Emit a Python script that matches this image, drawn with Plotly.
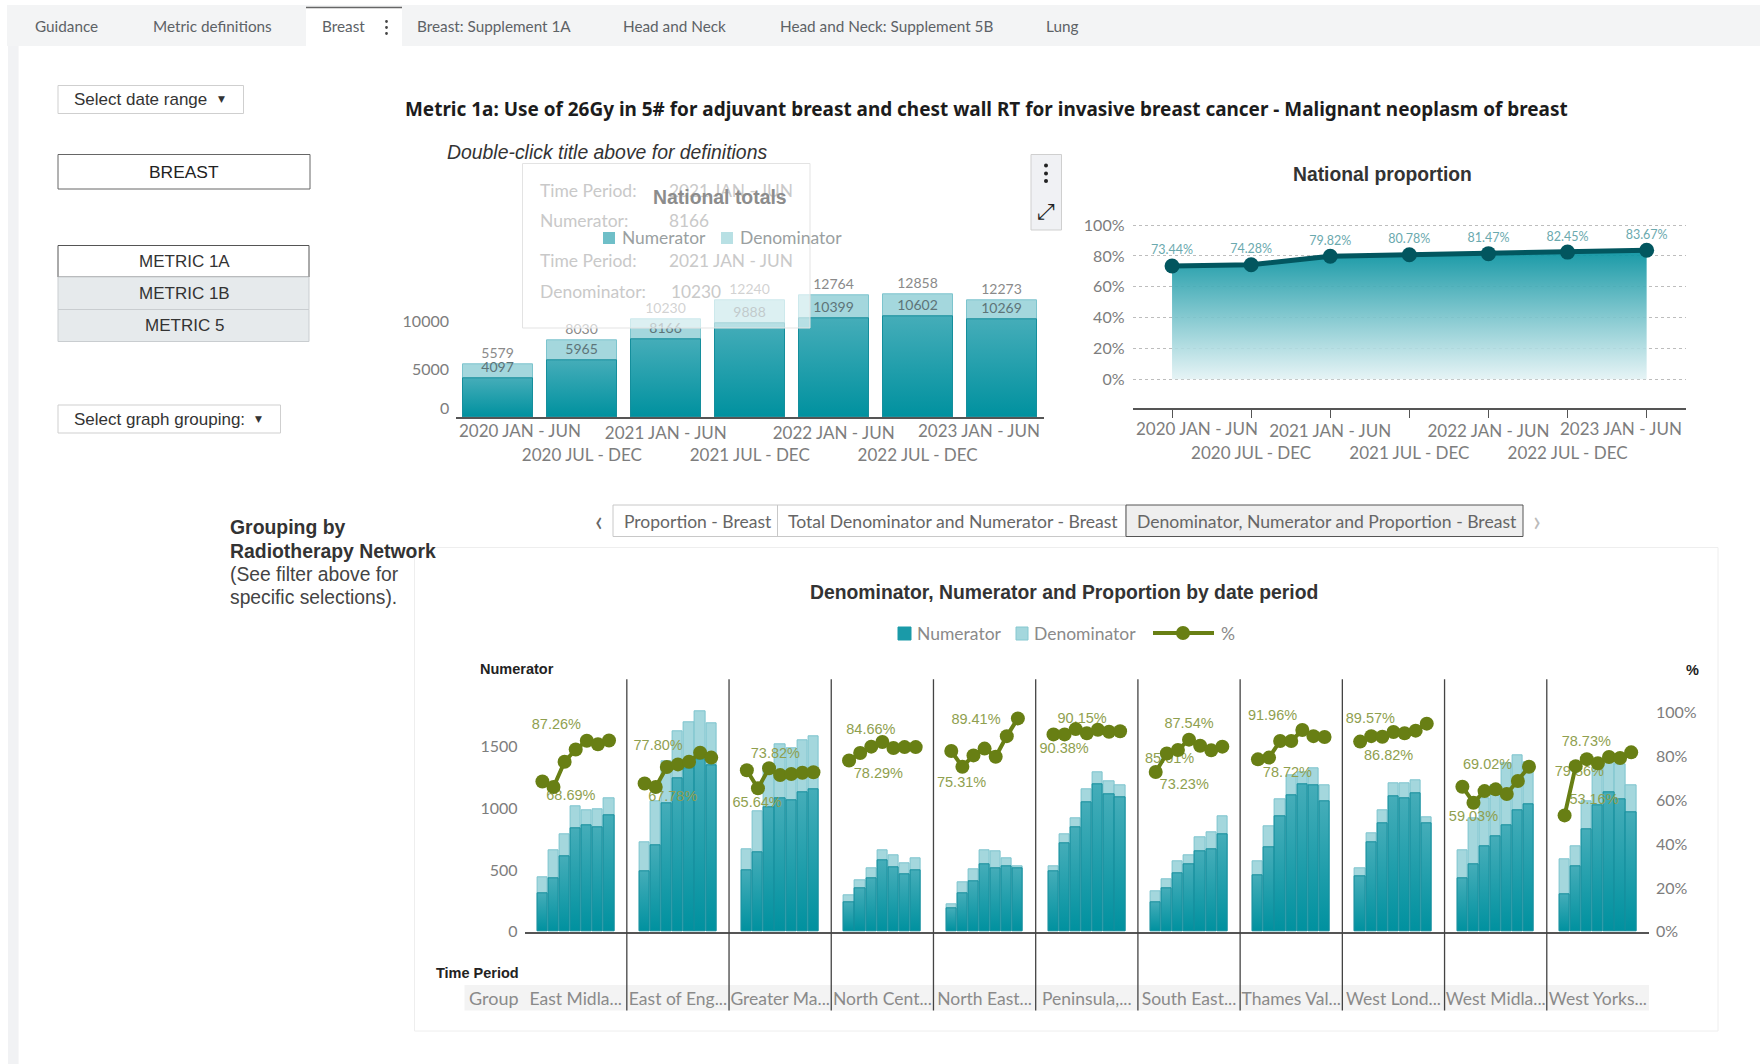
import plotly.graph_objects as go

W, H = 1760, 1064

# ---------- data ----------
periods = ["2020 JAN - JUN", "2020 JUL - DEC", "2021 JAN - JUN", "2021 JUL - DEC",
           "2022 JAN - JUN", "2022 JUL - DEC", "2023 JAN - JUN"]
national_numerator = [4097, 5965, 8166, 9888, 10399, 10602, 10269]
national_denominator = [5579, 8030, 10230, 12240, 12764, 12858, 12273]
national_pct = [73.44, 74.28, 79.82, 80.78, 81.47, 82.45, 83.67]

group_labels = ["East Midla...", "East of Eng...", "Greater Ma...", "North Cent...", "North East...",
                "Peninsula,...", "South East...", "Thames Val...", "West Lond...", "West Midla...", "West Yorks..."]
group_numerator = [
    [308, 435, 614, 841, 859, 849, 946],
    [486, 700, 1038, 1243, 1322, 1400, 1346],
    [495, 643, 1008, 1084, 1068, 1127, 1154],
    [238, 349, 435, 576, 524, 465, 495],
    [189, 308, 405, 543, 516, 532, 516],
    [492, 714, 849, 1046, 1195, 1116, 1086],
    [238, 349, 476, 543, 651, 670, 789],
    [454, 681, 938, 1103, 1192, 1184, 1057],
    [446, 722, 878, 1095, 1084, 1124, 878],
    [435, 543, 692, 770, 859, 986, 1035],
    [305, 527, 830, 1024, 1127, 1076, 968],
]
group_denominator = [
    [443, 662, 789, 1016, 986, 995, 1084],
    [722, 1060, 1380, 1627, 1695, 1784, 1686],
    [670, 978, 1351, 1519, 1483, 1549, 1586],
    [295, 414, 514, 662, 622, 551, 592],
    [224, 403, 503, 662, 651, 592, 532],
    [532, 789, 916, 1154, 1292, 1222, 1184],
    [324, 424, 570, 622, 768, 808, 935],
    [573, 857, 1076, 1266, 1294, 1326, 1184],
    [511, 800, 984, 1200, 1200, 1230, 927],
    [662, 922, 1078, 1185, 1366, 1430, 1375],
    [584, 692, 1053, 1332, 1412, 1357, 1184],
]
group_pct = [
    [68.6, 66.1, 77.6, 83.2, 87.2, 85.6, 87.3],
    [67.7, 66.1, 75.2, 76.4, 77.6, 81.7, 79.5],
    [73.7, 65.5, 74.6, 71.5, 72.0, 72.6, 72.8],
    [78.2, 81.6, 84.5, 86.6, 83.9, 84.3, 84.3],
    [82.5, 75.3, 80.5, 83.6, 79.9, 89.3, 97.4],
    [90.1, 90.1, 92.5, 90.6, 92.2, 91.3, 91.5],
    [72.9, 81.4, 83.0, 87.7, 84.9, 82.8, 84.5],
    [78.7, 79.5, 87.1, 87.1, 92.1, 89.3, 88.9],
    [86.8, 89.3, 89.0, 91.2, 90.6, 91.8, 95.0],
    [66.2, 58.9, 64.2, 65.0, 62.9, 68.8, 75.3],
    [53.1, 75.6, 78.8, 76.9, 79.8, 79.3, 81.9],
]
# group, period, text, dx px, dy px
pct_notes = [
    (0, 4, "87.26%", -30.4, 15.3), (0, 1, "68.69%", 17.4, -9),
    (1, 3, "77.80%", -19.8, 17.7), (1, 1, "67.78%", 17, -10.7),
    (2, 2, "73.82%", 6.3, 13.7), (2, 1, "65.64%", -0.8, -14.7),
    (3, 3, "84.66%", -11.5, 12), (3, 0, "78.29%", 29.3, -14),
    (4, 5, "89.41%", -30.8, 15.7), (4, 1, "75.31%", -0.8, -16.7),
    (5, 2, "90.15%", 6.4, 10), (5, 1, "90.38%", -0.5, -14.7),
    (6, 3, "87.54%", 0, 15), (6, 1, "85.01%", 2.8, -6), (6, 0, "73.23%", 28.5, -13.3),
    (7, 4, "91.96%", -29.8, 14), (7, 1, "78.72%", 18.4, -15.7),
    (8, 1, "89.57%", -0.9, 16.7), (8, 0, "86.82%", 28.5, -14.7),
    (9, 5, "69.02%", -30.3, 15.3), (9, 1, "59.03%", 0, -15),
    (10, 2, "78.73%", -0.5, 16.7), (10, 1, "79.86%", 3.7, -6), (10, 0, "53.16%", 29.4, 14.7),
]
tabs = [("Guidance", 33.7), ("Metric definitions", 151.5), ("Breast", 320.5), ("Breast: Supplement 1A", 415.5),
        ("Head and Neck", 622), ("Head and Neck: Supplement 5B", 778.5), ("Lung", 1045)]

# ---------- colours / fonts ----------
NUM = "#1a9aa8"
DEN = "#a4d7dd"
OLIVE = "#687f14"
LATO = "Lato"
ARIAL = "Liberation Sans"
AXIS_TXT = "#7d7d7d"


def px(x):
    return x / W


def py(y):
    return 1 - y / H


shapes, notes = [], []


def rect(x0, y0, x1, y1, fill="rgba(0,0,0,0)", line="rgba(0,0,0,0)", lw=1, layer="below", opacity=1):
    shapes.append(dict(type="rect", xref="paper", yref="paper", x0=px(x0), x1=px(x1), y0=py(y0), y1=py(y1),
                       fillcolor=fill, line=dict(color=line, width=lw), layer=layer, opacity=opacity))


def seg(x0, y0, x1, y1, color, lw=1, layer="below"):
    shapes.append(dict(type="line", xref="paper", yref="paper", x0=px(x0), x1=px(x1), y0=py(y0), y1=py(y1),
                       line=dict(color=color, width=lw), layer=layer))


def dot(x, y, r, color):
    shapes.append(dict(type="circle", xref="paper", yref="paper", x0=px(x - r), x1=px(x + r), y0=py(y - r), y1=py(y + r),
                       fillcolor=color, line=dict(width=0), layer="above"))


def label(x, y, s, size, color, family=LATO, anchor="left", bold=False, italic=False):
    if bold:
        s = f"<b>{s}</b>"
    if italic:
        s = f"<i>{s}</i>"
    notes.append(dict(xref="paper", yref="paper", x=px(x), y=py(y), text=s, showarrow=False, xanchor=anchor,
                      yanchor="middle", font=dict(size=size, color=color, family=family), borderpad=0))


# ---------- page chrome ----------
rect(7, 5, W, 46, fill="#f3f4f5")
rect(8, 46, 18.6, H, fill="#f1f2f4")
rect(306, 7, 402, 47, fill="#ffffff")
seg(306, 7.5, 402, 7.5, "#666666", 1.5)
for name, tx in tabs:
    label(tx, 26.5, name, 15.3, "#5d6266")
for yy in (21.5, 27.5, 33.5):
    dot(386.5, yy, 1.4, "#444444")

rect(58, 85.5, 243.5, 113.5, fill="#fff", line="#cfcfcf")
label(73, 99.5, "Select date range", 17, "#333333", ARIAL)
label(221, 99, "▼", 9, "#333333", "DejaVu Sans", "center")
rect(58, 154.5, 310, 189, fill="#fff", line="#666666")
label(184, 171.5, "BREAST", 17.4, "#222222", ARIAL, "center")
rect(58, 245.5, 309, 277, fill="#fff", line="#555555")
label(184, 261, "METRIC 1A", 17, "#333333", ARIAL, "center")
rect(58, 277, 309, 309.5, fill="#e6eaec", line="#c9cdd0")
label(184, 293, "METRIC 1B", 17, "#333333", ARIAL, "center")
rect(58, 309.5, 309, 341.5, fill="#e6eaec", line="#c9cdd0")
label(184, 325.5, "METRIC 5", 17, "#333333", ARIAL, "center")
rect(58, 405, 280.5, 433, fill="#fff", line="#cfcfcf")
label(73, 419, "Select graph grouping:", 17, "#333333", ARIAL)
label(258, 418.5, "▼", 9, "#333333", "DejaVu Sans", "center")

label(404, 109.5, "Metric 1a: Use of 26Gy in 5# for adjuvant breast and chest wall RT for invasive breast cancer - Malignant neoplasm of breast",
      18.95, "#1c1c1c", "Noto Sans", bold=True)
label(445.5, 151.5, "Double-click title above for definitions", 19.4, "#333333", ARIAL, italic=True)

rect(1031, 154.5, 1061.5, 230, fill="#f0f1f4", line="#cfcfcf")
for yy in (165.5, 173.5, 181):
    dot(1046, yy, 2, "#222222")
label(1046, 211, "⤢", 22, "#222222", "DejaVu Sans", "center")
label(1382, 174.5, "National proportion", 19.3, "#333333", ARIAL, "center", bold=True)

label(228.5, 527, "Grouping by", 19.4, "#333333", ARIAL, bold=True)
label(228.5, 551, "Radiotherapy Network", 19.4, "#333333", ARIAL, bold=True)
label(228.5, 574.5, "(See filter above for", 19.3, "#444444", ARIAL)
label(228.5, 597.5, "specific selections).", 19.3, "#444444", ARIAL)

rect(414.5, 547.5, 1718, 1031, fill="#fff", line="#eeeeee")
rect(613, 505, 1126, 536.5, fill="#fff", line="#c8c8c8")
seg(777.5, 505, 777.5, 536.5, "#c8c8c8")
rect(1126, 505, 1523, 536.5, fill="#efefef", line="#555555")
label(622.5, 521, "Proportion - Breast", 17.5, "#666666")
label(786.5, 521, "Total Denominator and Numerator - Breast", 17.6, "#666666")
label(1135.5, 521, "Denominator, Numerator and Proportion - Breast", 17.6, "#666666")
label(599, 519.5, "‹", 28, "#666666", anchor="center")
label(1536.5, 519.5, "›", 28, "#bbbbbb", anchor="center")
label(1064, 591.5, "Denominator, Numerator and Proportion by date period", 19.35, "#333333", ARIAL, "center", bold=True)

# bottom-chart legend
rect(898, 627, 911, 640, fill=NUM, line=NUM)
label(915.5, 633, "Numerator", 17.5, "#8a8a8a")
rect(1016, 627, 1028, 640, fill=DEN, line="#86c8d0")
label(1033, 633, "Denominator", 17.5, "#8a8a8a")
seg(1153, 633, 1214, 633, OLIVE, 4)
shapes.append(dict(type="circle", xref="paper", yref="paper", x0=px(1176), x1=px(1190), y0=py(640), y1=py(626),
                   fillcolor=OLIVE, line=dict(width=0), layer="below"))
label(1220, 633, "%", 17.5, "#8a8a8a")

label(479, 668.5, "Numerator", 14.5, "#222222", ARIAL, bold=True)
label(1692, 670, "%", 14.5, "#222222", ARIAL, "center", bold=True)
label(435, 973.5, "Time Period", 14.5, "#222222", ARIAL, bold=True)

rect(464.5, 985, 1649, 1010.5, fill="#f3f3f3")
label(468.5, 998, "Group", 18, "#8a8a8a")

# group dividers, drawn in x-axis units
for i in range(10):
    shapes.append(dict(type="line", xref="x3", yref="paper", x0=i + 0.5, x1=i + 0.5, y0=py(1010.5), y1=py(679.3),
                       line=dict(color="#444444", width=1.3), layer="above"))

# "National totals" header + legend, and the fading tooltip above the bars
rect(522.5, 163.5, 810, 328, fill="rgba(255,255,255,0.62)", line="#e3e3e3", layer="above")
TIP = "#c9c9c9"
label(538.5, 190, "Time Period:", 17.5, TIP)
label(668, 190, "2021 JAN - JUN", 17.3, TIP)
label(538.5, 220.5, "Numerator:", 17.5, TIP)
label(668, 220.5, "8166", 17.3, TIP)
label(538.5, 260, "Time Period:", 17.5, TIP)
label(668, 260, "2021 JAN - JUN", 17.3, TIP)
label(538.5, 291, "Denominator:", 17.5, TIP)
label(669.5, 291, "10230", 17.3, TIP)
label(720, 197, "National totals", 19.4, "#8c8c8c", ARIAL, "center", bold=True)
rect(603, 232, 615, 244, fill="#6fbfc8", layer="above")
label(620.5, 237, "Numerator", 17.4, "#9a9fa1")
rect(721, 232, 733, 244, fill="#b8e0e4", layer="above")
label(738.5, 237, "Denominator", 17.5, "#9a9fa1")

# ---------- traces ----------
fig = go.Figure()
cats = list(range(7))
# the first and last period labels sit clear of the plot edge (placed below), the others stagger on two rows
staggered = ["" if i in (0, 6) else (p if i % 2 == 0 else " <br>" + p) for i, p in enumerate(periods)]
label(519.8, 430.5, periods[0], 17, AXIS_TXT, anchor="center")
label(979, 430.5, periods[6], 17, AXIS_TXT, anchor="center")
label(1197, 428.5, periods[0], 17, AXIS_TXT, anchor="center")
label(1620.5, 428.5, periods[6], 17, AXIS_TXT, anchor="center")

fig.add_trace(go.Bar(x=cats, y=national_denominator, width=0.835, name="Denominator", xaxis="x", yaxis="y",
                     marker=dict(color=DEN, line=dict(color="#7cc4cd", width=1)),
                     text=national_denominator, textposition="outside", cliponaxis=False,
                     textfont=dict(size=14, color="#8a8a8a", family=LATO)))
fig.add_trace(go.Bar(x=cats, y=national_numerator, width=0.835, name="Numerator", xaxis="x", yaxis="y",
                     marker=dict(color=NUM, line=dict(color="#148e9c", width=1)),
                     text=national_numerator, textposition="outside", cliponaxis=False,
                     textfont=dict(size=14, color="#5d7478", family=LATO)))

fig.add_trace(go.Scatter(x=cats, y=national_pct, mode="lines+markers", name="National proportion",
                         xaxis="x2", yaxis="y2", fill="tozeroy",
                         fillgradient=dict(type="vertical",
                                           colorscale=[[0, "rgba(226,242,244,0.88)"], [1, "rgba(8,146,160,0.94)"]]),
                         line=dict(color="#02565f", width=5), marker=dict(color="#02565f", size=15),
                         cliponaxis=False))
fig.add_trace(go.Scatter(x=cats, y=[v + 9.5 for v in national_pct], mode="text", name="National proportion labels",
                         xaxis="x2", yaxis="y2", text=[f"{v:.2f}%" for v in national_pct],
                         textposition="middle center", textfont=dict(size=12.5, color="#6aa9ae", family=LATO),
                         cliponaxis=False))

STEP = 0.1086
bar_x = [g + (p - 3) * STEP for g in range(len(group_labels)) for p in range(7)]
den_flat = [v for row in group_denominator for v in row]
num_flat = [v for row in group_numerator for v in row]
fig.add_trace(go.Bar(x=bar_x, y=den_flat, width=STEP * 0.92, name="Denominator", xaxis="x3", yaxis="y3",
                     marker=dict(color=DEN, line=dict(color="#7cc4cd", width=1))))
fig.add_trace(go.Bar(x=bar_x, y=num_flat, width=STEP * 0.92, name="Numerator", xaxis="x3", yaxis="y3",
                     marker=dict(color=NUM, line=dict(color="#148e9c", width=1))))

fig.add_trace(go.Scatter(
    x=[g + (p - 3) * STEP + dx / 102.2 for g, p, _, dx, _d in pct_notes],
    y=[group_pct[g][p] + dy / 2.19 for g, p, _, _x, dy in pct_notes],
    text=[t for _g, _p, t, _x, _d in pct_notes], mode="text", name="% labels", xaxis="x3", yaxis="y4",
    textposition="middle center", textfont=dict(size=14.5, color="#8f9f4f", family=ARIAL), cliponaxis=False))

line_x, line_y = [], []
for g, row in enumerate(group_pct):
    line_x += [g + (p - 3) * STEP for p in range(7)] + [None]
    line_y += row + [None]
fig.add_trace(go.Scatter(x=line_x, y=line_y, mode="lines+markers", name="%", xaxis="x3", yaxis="y4",
                         line=dict(color=OLIVE, width=4), marker=dict(color=OLIVE, size=14), connectgaps=False,
                         cliponaxis=False))

label(450, 408, "0", 16, AXIS_TXT, anchor="right")

tick_font = dict(size=16, color=AXIS_TXT, family=LATO)
x_tick_font = dict(size=17, color=AXIS_TXT, family=LATO)
fig.update_layout(
    width=W, height=H, autosize=False, margin=dict(l=0, r=0, t=0, b=0, pad=0, autoexpand=False),
    paper_bgcolor="#ffffff", plot_bgcolor="rgba(0,0,0,0)", showlegend=False, barmode="overlay", bargap=0,
    font=dict(family=LATO), shapes=shapes, annotations=notes,
    xaxis=dict(domain=[px(456), px(1043.5)], range=[-0.5, 6.5], tickvals=cats, ticktext=staggered, tickfont=x_tick_font,
               tickangle=0, showline=True, linecolor="#555555", linewidth=2, showgrid=False, zeroline=False, ticks="",
               anchor="y", ticklabelstandoff=-1),
    yaxis=dict(domain=[py(417.3), py(226.3)], range=[0, 20000], tickvals=[5000, 10000], tickformat="d",
               tickfont=tick_font, showgrid=False, zeroline=False, showline=False, anchor="x", ticks="",
               ticklabelstandoff=6),
    xaxis2=dict(domain=[px(1132.5), px(1686.2)], range=[-0.5, 6.5], tickvals=cats, ticktext=staggered,
                tickfont=x_tick_font, tickangle=0, showline=True, linecolor="#555555", linewidth=2, showgrid=False,
                zeroline=False, ticks="outside", ticklen=8, tickcolor="#555555", anchor="y2", ticklabelstandoff=-2),
    yaxis2=dict(domain=[py(408.3), py(205)], range=[-18.8, 113], tickvals=[0, 20, 40, 60, 80, 100],
                ticktext=["0%", "20%", "40%", "60%", "80%", "100%"], tickfont=tick_font, showgrid=True,
                griddash="dot", gridcolor="#bdbdbd", gridwidth=1, zeroline=False, showline=False, anchor="x2",
                ticklabelstandoff=7),
    xaxis3=dict(domain=[px(524.6), px(1649)], range=[-0.5, 10.5], tickvals=list(range(11)), ticktext=group_labels,
                tickfont=dict(size=17.5, color="#8a8a8a", family=LATO), tickangle=0, ticks="", showline=True,
                linecolor="#555555", linewidth=2, showgrid=False, zeroline=False, anchor="y3", ticklabelstandoff=50),
    yaxis3=dict(domain=[py(931.7), py(679.3)], range=[0, 2045], tickvals=[0, 500, 1000, 1500], tickfont=tick_font,
                showgrid=False, zeroline=False, showline=False, anchor="x3", ticklabelstandoff=6),
    yaxis4=dict(domain=[py(931.7), py(679.3)], range=[0, 115.25], tickvals=[0, 20, 40, 60, 80, 100],
                ticktext=["0%", "20%", "40%", "60%", "80%", "100%"], tickfont=tick_font, showgrid=False,
                zeroline=False, showline=False, overlaying="y3", side="right", anchor="x3", ticklabelstandoff=6),
)

post = """
document.body.style.margin = '0';
document.body.style.overflow = 'hidden';
var gd = document.getElementById('{plot_id}');
var ns = 'http://www.w3.org/2000/svg';
var svg = gd.querySelector('.main-svg');
var defs = svg.querySelector('defs');
var g = document.createElementNS(ns, 'linearGradient');
g.setAttribute('id', 'numGrad');
g.setAttribute('x1', '0'); g.setAttribute('y1', '1'); g.setAttribute('x2', '0'); g.setAttribute('y2', '0');
[['0', '#00919f'], ['1', '#45adb9']].forEach(function (s) {
  var st = document.createElementNS(ns, 'stop');
  st.setAttribute('offset', s[0]); st.setAttribute('stop-color', s[1]); g.appendChild(st);
});
defs.appendChild(g);
gd.querySelectorAll('.barlayer .point path').forEach(function (p) {
  if (p.style.fill === 'rgb(26, 154, 168)') { p.style.fill = 'url(#numGrad)'; }
});
"""
fig.write_html("out.html", post_script=post, config=dict(displayModeBar=False, responsive=False))
